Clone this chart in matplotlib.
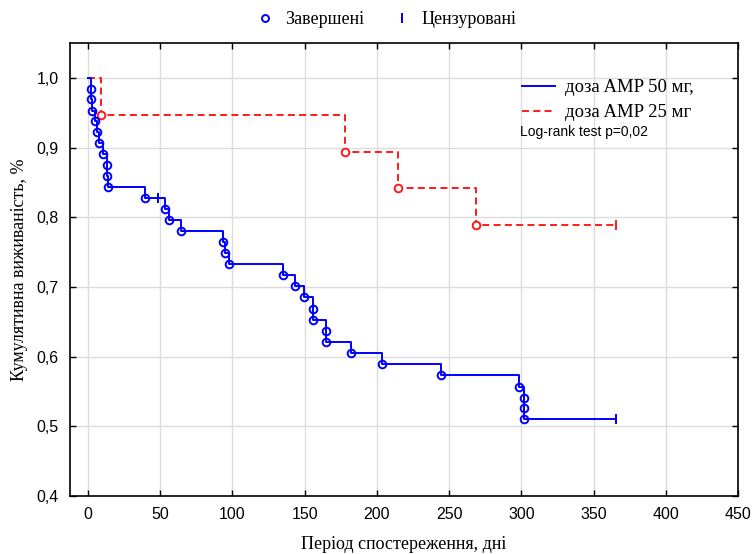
import matplotlib
matplotlib.use("Agg")
import matplotlib.pyplot as plt
from matplotlib.lines import Line2D
from matplotlib.ticker import FuncFormatter, MultipleLocator

# Kaplan-Meier steps: event times (days) and survival after each event
dose50_times = [1.9, 1.9, 2.8, 4.6, 6.0, 7.4, 10.2, 12.9, 12.9, 13.9,
                39.3, 53.5, 55.9, 64.2, 93.3, 94.7, 97.9, 134.8, 143.1,
                149.6, 156.0, 156.0, 164.8, 164.8, 181.9, 203.6, 244.7,
                298.7, 302.1, 302.1, 302.1]
dose50_surv = [0.984, 0.969, 0.953, 0.938, 0.922, 0.906, 0.891, 0.875, 0.859,
               0.844, 0.828, 0.812, 0.796, 0.780, 0.764, 0.749, 0.733, 0.717,
               0.701, 0.685, 0.669, 0.653, 0.637, 0.621, 0.605, 0.589, 0.573,
               0.557, 0.541, 0.526, 0.510]
dose50_cens_t = [48.7, 365.4]
dose50_cens_s = [0.828, 0.510]

dose25_times = [8.8, 178.0, 214.5, 268.7]
dose25_surv = [0.947, 0.894, 0.842, 0.789]
dose25_cens_t = [365.5]
dose25_cens_s = [0.789]

x_ticks = [0, 50, 100, 150, 200, 250, 300, 350, 400, 450]

serif = "Liberation Serif"
sans = ["Liberation Sans Narrow", "Liberation Sans"]

fig = plt.figure(figsize=(7.53, 5.54), dpi=100)
ax = fig.add_axes([70 / 753, 1 - 496 / 554, (738 - 70) / 753, (496 - 43) / 554])

blue = "#0000ff"
red = "#ff1a1a"

def km_steps(times, surv, t_end):
    xs = [0] + list(times) + [t_end]
    ys = [1.0] + list(surv) + [surv[-1]]
    return xs, ys

x50, y50 = km_steps(dose50_times, dose50_surv, dose50_cens_t[-1])
x25, y25 = km_steps(dose25_times, dose25_surv, dose25_cens_t[-1])

ax.step(x25, y25, where="post", color=red, lw=1.4, ls=(0, (3.6, 2.2)), zorder=3)
ax.step(x50, y50, where="post", color=blue, lw=1.4, zorder=4)

ax.plot(dose25_times, dose25_surv, "o", ms=5.5, mfc="white", mec=red, mew=1.4, ls="none", zorder=5)
ax.plot(dose50_times, dose50_surv, "o", ms=5.5, mfc="none", mec=blue, mew=1.4, ls="none", zorder=5)
ax.plot(dose25_cens_t, dose25_cens_s, "|", ms=7, mec=red, mew=1.4, ls="none", zorder=5)
ax.plot(dose50_cens_t, dose50_cens_s, "|", ms=7, mec=blue, mew=1.4, ls="none", zorder=5)

ax.set_xlim(-12.5, 450)
ax.set_ylim(0.4, 1.05)
ax.set_xticks(x_ticks)
ax.yaxis.set_major_locator(MultipleLocator(0.1))
ax.yaxis.set_major_formatter(FuncFormatter(lambda v, p: f"{v:.1f}".replace(".", ",")))
ax.grid(True, color="#dcdcdc", lw=1)
ax.set_axisbelow(True)
ax.tick_params(direction="in", length=4, width=1, top=True, right=True, labelsize=11.5, pad=8)
for lbl in ax.get_xticklabels() + ax.get_yticklabels():
    lbl.set_family(sans)
for sp in ax.spines.values():
    sp.set_linewidth(1.2)

ax.set_xlabel("Період спостереження, дні", family=serif, fontsize=13, labelpad=10)
ax.set_ylabel("Кумулятивна виживаність, %", family=serif, fontsize=13, labelpad=6)

# legend inside the plot
h50 = Line2D([], [], color=blue, lw=1.4)
h25 = Line2D([], [], color=red, lw=1.4, ls=(0, (3.6, 2.2)))
ax.legend([h50, h25], ["доза AMP 50 мг,", "доза AMP 25 мг"],
          loc="upper left", bbox_to_anchor=(522 / 753, 1 - 79 / 554),
          bbox_transform=fig.transFigure, frameon=False, prop={"family": serif, "size": 13.5},
          handlelength=1.75, handletextpad=0.55, labelspacing=0.42, borderpad=0, borderaxespad=0)
fig.text(520 / 753, 1 - 132 / 554, "Log-rank test p=0,02", family="Liberation Sans",
         fontsize=10, va="center", ha="left")

# marker legend above the plot
hc = Line2D([], [], marker="o", ms=5, mfc="none", mec=blue, mew=1.4, ls="none")
hx = Line2D([], [], marker="|", ms=7, mec=blue, mew=1.4, ls="none")
fig.legend([hc, hx], ["Завершені", "Цензуровані"], loc="center",
           bbox_to_anchor=(386 / 753, 1 - 20 / 554), ncol=2, frameon=False,
           prop={"family": serif, "size": 13}, handlelength=1, handletextpad=0.6,
           columnspacing=1.6, borderpad=0)

fig.savefig("out.png", dpi=100)
